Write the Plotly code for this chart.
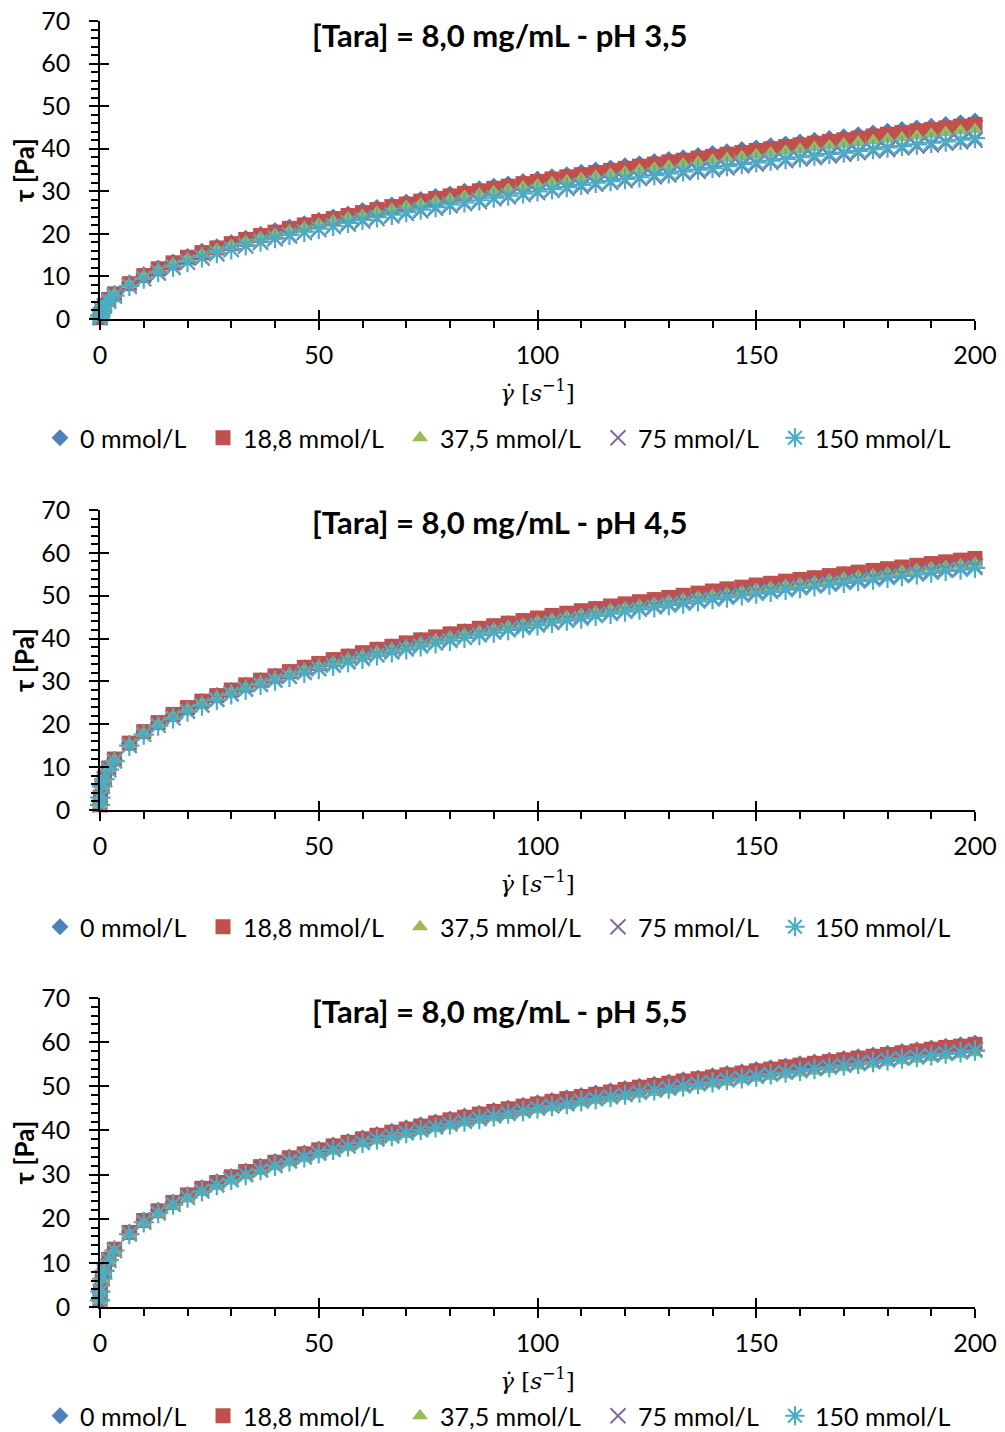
import plotly.graph_objects as go

# page body has an 8 px margin, so the figure is sized and positioned to compensate
OFF = 8
W, H = 1005 - OFF, 1432 - OFF

series_names = ["0 mmol/L", "18,8 mmol/L", "37,5 mmol/L", "75 mmol/L", "150 mmol/L"]
panel_titles = ["[Tara] = 8,0 mg/mL - pH 3,5", "[Tara] = 8,0 mg/mL - pH 4,5", "[Tara] = 8,0 mg/mL - pH 5,5"]

x_ticks = [0, 50, 100, 150, 200]
y_ticks = [0, 10, 20, 30, 40, 50, 60, 70]

shear_low = [0.01, 0.1, 0.5, 1, 2]
shear_main = [3.3, 6.7, 10, 13.3, 16.7, 20, 23.3, 26.7, 30, 33.3, 36.7, 40, 43.3, 46.7, 50,
              53.3, 56.7, 60, 63.3, 66.7, 70, 73.3, 76.7, 80, 83.3, 86.7, 90, 93.3, 96.7, 100,
              103.3, 106.7, 110, 113.3, 116.7, 120, 123.3, 126.7, 130, 133.3, 136.7, 140, 143.3, 146.7, 150,
              153.3, 156.7, 160, 163.3, 166.7, 170, 173.3, 176.7, 180, 183.3, 186.7, 190, 193.3, 196.7, 200]
shear_rate = shear_low + shear_main

# ---- pH 3,5 ----
ph35_c0 = [0.3, 1.0, 2.3, 3.3, 4.7,
           6.0, 8.5, 10.4, 12.0, 13.4, 14.7, 15.9, 17.0, 18.0, 19.0, 19.9, 20.8, 21.6, 22.4, 23.2,
           24.0, 24.7, 25.5, 26.2, 26.8, 27.5, 28.1, 28.8, 29.4, 30.0, 30.6, 31.2, 31.7, 32.3, 32.9,
           33.4, 33.9, 34.5, 35.0, 35.5, 36.0, 36.5, 37.0, 37.5, 37.9, 38.4, 38.9, 39.3, 39.8, 40.2,
           40.7, 41.1, 41.6, 42.0, 42.4, 42.8, 43.3, 43.7, 44.1, 44.5, 44.9, 45.3, 45.7, 46.1, 46.5]
ph35_c18 = [0.3, 1.0, 2.3, 3.2, 4.6,
            5.9, 8.3, 10.2, 11.8, 13.2, 14.5, 15.6, 16.7, 17.7, 18.7, 19.6, 20.4, 21.3, 22.1, 22.9,
            23.6, 24.3, 25.0, 25.7, 26.4, 27.0, 27.7, 28.3, 28.9, 29.5, 30.1, 30.7, 31.2, 31.8, 32.3,
            32.9, 33.4, 33.9, 34.4, 34.9, 35.4, 35.9, 36.4, 36.9, 37.3, 37.8, 38.2, 38.7, 39.1, 39.6,
            40.0, 40.5, 40.9, 41.3, 41.7, 42.1, 42.5, 43.0, 43.4, 43.8, 44.2, 44.5, 44.9, 45.3, 45.7]
ph35_c37 = [0.3, 1.0, 2.2, 3.1, 4.5,
            5.8, 8.1, 10.0, 11.5, 12.9, 14.1, 15.2, 16.3, 17.3, 18.2, 19.1, 19.9, 20.7, 21.5, 22.3,
            23.0, 23.7, 24.4, 25.1, 25.7, 26.4, 27.0, 27.6, 28.2, 28.8, 29.3, 29.9, 30.4, 31.0, 31.5,
            32.0, 32.5, 33.0, 33.5, 34.0, 34.5, 35.0, 35.4, 35.9, 36.4, 36.8, 37.3, 37.7, 38.1, 38.6,
            39.0, 39.4, 39.8, 40.3, 40.7, 41.1, 41.5, 41.9, 42.3, 42.6, 43.0, 43.4, 43.8, 44.2, 44.5]
ph35_c75 = [0.3, 0.9, 2.1, 3.0, 4.2,
            5.4, 7.7, 9.4, 10.8, 12.1, 13.3, 14.3, 15.3, 16.3, 17.1, 18.0, 18.8, 19.5, 20.3, 21.0,
            21.7, 22.3, 23.0, 23.6, 24.2, 24.8, 25.4, 26.0, 26.6, 27.1, 27.6, 28.2, 28.7, 29.2, 29.7,
            30.2, 30.7, 31.1, 31.6, 32.1, 32.5, 33.0, 33.4, 33.8, 34.3, 34.7, 35.1, 35.5, 36.0, 36.4,
            36.8, 37.2, 37.6, 37.9, 38.3, 38.7, 39.1, 39.5, 39.8, 40.2, 40.6, 40.9, 41.3, 41.6, 42.0]
ph35_c150 = [0.3, 0.9, 2.1, 3.0, 4.2,
             5.5, 7.8, 9.5, 11.0, 12.3, 13.4, 14.5, 15.5, 16.4, 17.3, 18.2, 19.0, 19.8, 20.5, 21.2,
             21.9, 22.6, 23.3, 23.9, 24.5, 25.1, 25.7, 26.3, 26.9, 27.4, 27.9, 28.5, 29.0, 29.5, 30.0,
             30.5, 31.0, 31.5, 32.0, 32.4, 32.9, 33.3, 33.8, 34.2, 34.7, 35.1, 35.5, 35.9, 36.4, 36.8,
             37.2, 37.6, 38.0, 38.4, 38.8, 39.1, 39.5, 39.9, 40.3, 40.6, 41.0, 41.4, 41.7, 42.1, 42.5]

# ---- pH 4,5 ----
ph45_c0 = [1.2, 3.0, 5.7, 7.4, 9.7,
           11.8, 15.5, 18.2, 20.3, 22.2, 23.8, 25.3, 26.7, 27.9, 29.1, 30.2, 31.2, 32.2, 33.2, 34.1,
           34.9, 35.8, 36.6, 37.4, 38.1, 38.8, 39.6, 40.2, 40.9, 41.6, 42.2, 42.8, 43.5, 44.1, 44.6,
           45.2, 45.8, 46.3, 46.9, 47.4, 47.9, 48.4, 49.0, 49.5, 49.9, 50.4, 50.9, 51.4, 51.8, 52.3,
           52.7, 53.2, 53.6, 54.1, 54.5, 54.9, 55.3, 55.7, 56.1, 56.5, 56.9, 57.3, 57.7, 58.1, 58.5]
ph45_c18 = [1.2, 3.0, 5.7, 7.5, 9.8,
            11.9, 15.6, 18.3, 20.4, 22.3, 23.9, 25.4, 26.7, 28.0, 29.2, 30.3, 31.3, 32.3, 33.3, 34.2,
            35.1, 35.9, 36.7, 37.5, 38.2, 39.0, 39.7, 40.4, 41.1, 41.7, 42.4, 43.0, 43.6, 44.2, 44.8,
            45.4, 45.9, 46.5, 47.0, 47.6, 48.1, 48.6, 49.1, 49.6, 50.1, 50.6, 51.1, 51.6, 52.0, 52.5,
            52.9, 53.4, 53.8, 54.2, 54.7, 55.1, 55.5, 55.9, 56.3, 56.7, 57.1, 57.5, 57.9, 58.3, 58.7]
ph45_c37 = [1.2, 3.0, 5.6, 7.3, 9.6,
            11.7, 15.3, 17.9, 20.0, 21.9, 23.5, 24.9, 26.2, 27.5, 28.6, 29.7, 30.7, 31.7, 32.7, 33.5,
            34.4, 35.2, 36.0, 36.8, 37.5, 38.2, 38.9, 39.6, 40.3, 40.9, 41.6, 42.2, 42.8, 43.4, 44.0,
            44.5, 45.1, 45.6, 46.2, 46.7, 47.2, 47.7, 48.2, 48.7, 49.2, 49.7, 50.1, 50.6, 51.0, 51.5,
            51.9, 52.4, 52.8, 53.2, 53.6, 54.1, 54.5, 54.9, 55.3, 55.7, 56.1, 56.5, 56.8, 57.2, 57.6]
ph45_c75 = [1.2, 2.9, 5.5, 7.2, 9.4,
            11.5, 15.1, 17.7, 19.8, 21.6, 23.2, 24.6, 25.9, 27.2, 28.3, 29.4, 30.4, 31.3, 32.3, 33.1,
            34.0, 34.8, 35.6, 36.3, 37.1, 37.8, 38.5, 39.1, 39.8, 40.4, 41.1, 41.7, 42.3, 42.9, 43.4,
            44.0, 44.5, 45.1, 45.6, 46.1, 46.6, 47.1, 47.6, 48.1, 48.6, 49.0, 49.5, 50.0, 50.4, 50.9,
            51.3, 51.7, 52.2, 52.6, 53.0, 53.4, 53.8, 54.2, 54.6, 55.0, 55.4, 55.8, 56.2, 56.5, 56.9]
ph45_c150 = [1.2, 2.9, 5.5, 7.2, 9.4,
             11.4, 15.0, 17.6, 19.7, 21.4, 23.0, 24.4, 25.7, 27.0, 28.1, 29.2, 30.2, 31.1, 32.0, 32.9,
             33.7, 34.5, 35.3, 36.1, 36.8, 37.5, 38.2, 38.9, 39.5, 40.2, 40.8, 41.4, 42.0, 42.5, 43.1,
             43.7, 44.2, 44.7, 45.3, 45.8, 46.3, 46.8, 47.3, 47.8, 48.2, 48.7, 49.2, 49.6, 50.1, 50.5,
             50.9, 51.4, 51.8, 52.2, 52.6, 53.0, 53.4, 53.8, 54.2, 54.6, 55.0, 55.4, 55.8, 56.1, 56.5]

# ---- pH 5,5 ----
ph55_c0 = [1.5, 3.6, 6.5, 8.4, 10.9,
           13.1, 17.0, 19.7, 22.0, 23.8, 25.5, 27.0, 28.4, 29.6, 30.8, 31.9, 33.0, 34.0, 34.9, 35.8,
           36.7, 37.5, 38.3, 39.1, 39.8, 40.6, 41.3, 41.9, 42.6, 43.3, 43.9, 44.5, 45.1, 45.7, 46.3,
           46.8, 47.4, 47.9, 48.5, 49.0, 49.5, 50.0, 50.5, 51.0, 51.5, 51.9, 52.4, 52.9, 53.3, 53.8,
           54.2, 54.6, 55.1, 55.5, 55.9, 56.3, 56.7, 57.1, 57.5, 57.9, 58.3, 58.7, 59.1, 59.4, 59.8]
ph55_c18 = [1.5, 3.6, 6.5, 8.4, 10.8,
            13.1, 16.9, 19.6, 21.8, 23.7, 25.4, 26.9, 28.2, 29.5, 30.7, 31.8, 32.8, 33.8, 34.7, 35.6,
            36.5, 37.3, 38.1, 38.9, 39.6, 40.3, 41.0, 41.7, 42.4, 43.0, 43.7, 44.3, 44.9, 45.5, 46.0,
            46.6, 47.2, 47.7, 48.2, 48.7, 49.3, 49.8, 50.2, 50.7, 51.2, 51.7, 52.1, 52.6, 53.0, 53.5,
            53.9, 54.4, 54.8, 55.2, 55.6, 56.0, 56.4, 56.8, 57.2, 57.6, 58.0, 58.4, 58.8, 59.1, 59.5]
ph55_c37 = [1.5, 3.5, 6.3, 8.1, 10.5,
            12.7, 16.4, 19.0, 21.1, 23.0, 24.6, 26.0, 27.3, 28.6, 29.7, 30.7, 31.8, 32.7, 33.6, 34.5,
            35.3, 36.1, 36.9, 37.6, 38.4, 39.1, 39.7, 40.4, 41.0, 41.7, 42.3, 42.9, 43.4, 44.0, 44.6,
            45.1, 45.6, 46.2, 46.7, 47.2, 47.7, 48.2, 48.6, 49.1, 49.6, 50.0, 50.5, 50.9, 51.4, 51.8,
            52.2, 52.6, 53.0, 53.4, 53.8, 54.2, 54.6, 55.0, 55.4, 55.8, 56.1, 56.5, 56.9, 57.2, 57.6]
ph55_c75 = [1.5, 3.5, 6.4, 8.2, 10.6,
            12.8, 16.6, 19.3, 21.4, 23.3, 24.9, 26.4, 27.7, 28.9, 30.1, 31.2, 32.2, 33.2, 34.1, 35.0,
            35.8, 36.6, 37.4, 38.2, 38.9, 39.6, 40.3, 41.0, 41.6, 42.2, 42.9, 43.5, 44.1, 44.6, 45.2,
            45.7, 46.3, 46.8, 47.3, 47.8, 48.3, 48.8, 49.3, 49.8, 50.3, 50.7, 51.2, 51.6, 52.1, 52.5,
            52.9, 53.4, 53.8, 54.2, 54.6, 55.0, 55.4, 55.8, 56.2, 56.5, 56.9, 57.3, 57.7, 58.0, 58.4]
ph55_c150 = [1.5, 3.5, 6.4, 8.2, 10.6,
             12.8, 16.5, 19.2, 21.3, 23.2, 24.8, 26.2, 27.6, 28.8, 29.9, 31.0, 32.0, 33.0, 33.9, 34.8,
             35.6, 36.4, 37.2, 38.0, 38.7, 39.4, 40.1, 40.7, 41.4, 42.0, 42.6, 43.2, 43.8, 44.4, 45.0,
             45.5, 46.0, 46.6, 47.1, 47.6, 48.1, 48.6, 49.1, 49.5, 50.0, 50.5, 50.9, 51.4, 51.8, 52.2,
             52.7, 53.1, 53.5, 53.9, 54.3, 54.7, 55.1, 55.5, 55.9, 56.3, 56.6, 57.0, 57.4, 57.7, 58.1]

panels = [
    [ph35_c0, ph35_c18, ph35_c37, ph35_c75, ph35_c150],
    [ph45_c0, ph45_c18, ph45_c37, ph45_c75, ph45_c150],
    [ph55_c0, ph55_c18, ph55_c37, ph55_c75, ph55_c150],
]

styles = [
    dict(symbol="diamond", size=13, color="#4F81BD"),
    dict(symbol="square", size=15, color="#C0504D"),
    dict(symbol="triangle-up", size=14, color="#9BBB59"),
    dict(symbol="x-thin-open", size=15, color="#8064A2", line=dict(color="#8064A2", width=1.8)),
    dict(symbol="asterisk-open", size=17, color="#4BACC6", line=dict(color="#4BACC6", width=2.2)),
]

# reference pixel geometry (page coordinates), converted to figure coordinates with OFF
plot_left, plot_right = 100 - OFF, 975 - OFF
panel_px = [(21, 319), (510, 810), (998, 1307)]
legend_px = [438, 927, 1416]
title_px = [35, 522, 1011]
legend_text_x = [80, 243, 440, 638, 815]

FONT = "Lato, Carlito, Calibri, sans-serif"

fig = go.Figure()
layout = dict(
    width=W, height=H, margin=dict(l=0, r=0, t=0, b=0, autoexpand=False),
    paper_bgcolor="white", plot_bgcolor="white",
    font=dict(family=FONT, size=25, color="black"),
    annotations=[],
)

leg_idx = 0
for p in range(3):
    ax = "" if p == 0 else str(p + 1)
    ov = str(p + 4)
    top, bot = panel_px[p][0] - OFF, panel_px[p][1] - OFF
    ydom = [1 - bot / H, 1 - top / H]
    xdom = [plot_left / W, plot_right / W]
    for s, name in enumerate(series_names):
        st = styles[s]
        marker = dict(symbol=st["symbol"], size=st["size"], color=st["color"])
        if "line" in st:
            marker["line"] = st["line"]
        leg = "legend" if leg_idx == 0 else f"legend{leg_idx + 1}"
        leg_idx += 1
        fig.add_trace(go.Scatter(
            x=shear_rate, y=panels[p][s], mode="markers", name=name,
            marker=marker, cliponaxis=False, xaxis="x" + ax, yaxis="y" + ax,
            legend=leg,
        ))
        layout[leg] = dict(
            orientation="h", x=(legend_text_x[s] - 40 - OFF) / W, xanchor="left",
            y=1 - (legend_px[p] - OFF) / H, yanchor="middle",
            font=dict(size=25), itemwidth=30, bgcolor="rgba(0,0,0,0)",
        )
    # dummy trace for overlay axes (inside half of crossing ticks)
    fig.add_trace(go.Scatter(x=[None], y=[None], xaxis="x" + ov, yaxis="y" + ov,
                             showlegend=False, hoverinfo="skip"))

    common_line = dict(showline=True, linecolor="black", linewidth=1.5, automargin=False,
                       showgrid=False, zeroline=False, tickcolor="black", tickwidth=1.5,
                       ticklabeloverflow="allow")
    layout["xaxis" + ax] = dict(
        domain=xdom, anchor="y" + ax, range=[0, 200], tickvals=x_ticks,
        ticks="outside", ticklen=9, ticklabelstandoff=4,
        minor=dict(ticks="outside", dtick=10, ticklen=7, tickcolor="black", tickwidth=1.5),
        title=dict(text="<i>γ̇</i> [<i>s</i><sup>−1</sup>]",
                   font=dict(family="DejaVu Serif, Liberation Serif, serif", size=23), standoff=17),
        tickfont=dict(size=25), **common_line)
    layout["yaxis" + ax] = dict(
        domain=ydom, anchor="x" + ax, range=[0, 70], tickvals=y_ticks,
        ticks="outside", ticklen=9, ticklabelstandoff=14,
        minor=dict(ticks="outside", dtick=2, ticklen=7, tickcolor="black", tickwidth=1.5),
        title=dict(text="<b>τ [Pa]</b>", font=dict(size=26), standoff=1),
        tickfont=dict(size=25), **common_line)
    layout["xaxis" + ov] = dict(
        overlaying="x" + ax, anchor="y" + ov, range=[0, 200], tickvals=x_ticks,
        ticks="inside", ticklen=9, tickcolor="black", tickwidth=1.5, automargin=False,
        showticklabels=False, showline=False, showgrid=False, zeroline=False)
    layout["yaxis" + ov] = dict(
        overlaying="y" + ax, anchor="x" + ov, range=[0, 70], tickvals=y_ticks,
        ticks="inside", ticklen=9, tickcolor="black", tickwidth=1.5, automargin=False,
        showticklabels=False, showline=False, showgrid=False, zeroline=False)
    layout["annotations"].append(dict(
        text="<b>" + panel_titles[p] + "</b>", xref="paper", yref="paper",
        x=(499 - OFF) / W, y=1 - (title_px[p] - OFF) / H, xanchor="center", yanchor="middle",
        showarrow=False, font=dict(size=31)))

fig.update_layout(**layout)
fig.write_html("out.html")
